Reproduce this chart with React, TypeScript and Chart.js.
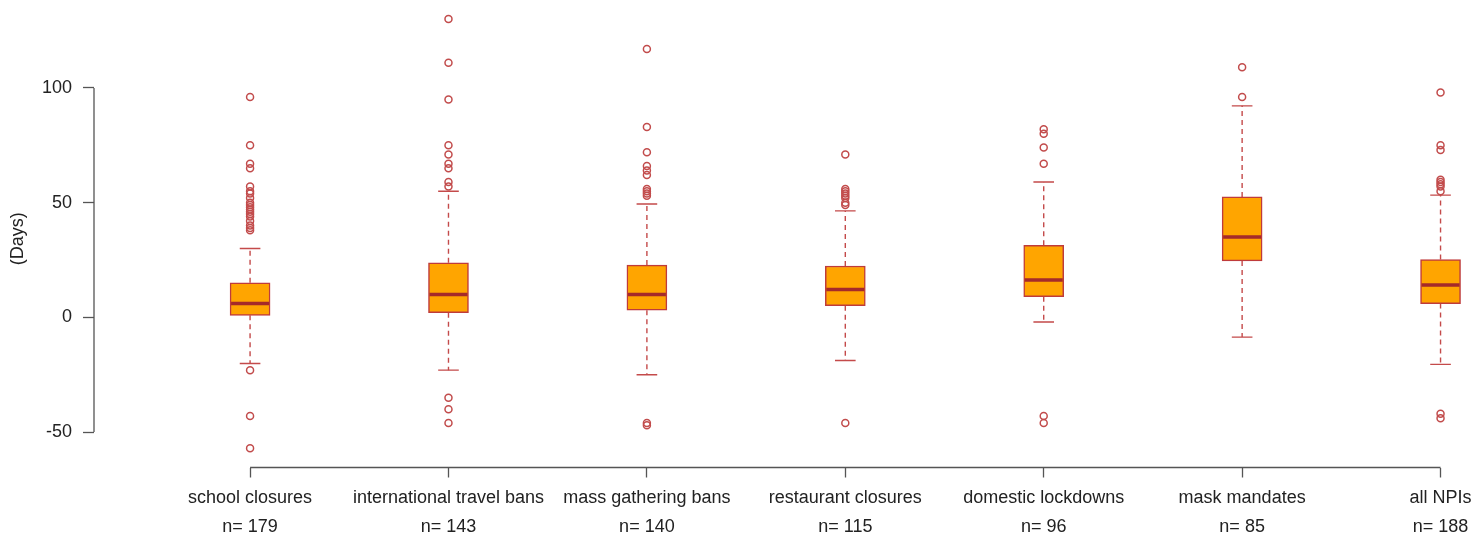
import React, { useEffect, useRef } from "react";
import { Chart, registerables } from "chart.js";

Chart.register(...registerables);

const categories = [
  "school closures",
  "international travel bans",
  "mass gathering bans",
  "restaurant closures",
  "domestic lockdowns",
  "mask mandates",
  "all NPIs",
];
const counts = [179, 143, 140, 115, 96, 85, 188];
const lowerWhisker = [-20.1, -23.0, -25.0, -18.8, -2.0, -8.6, -20.5];
const q1 = [0.9, 2.0, 3.1, 5.1, 9.0, 24.6, 6.0];
const medians = [6.0, 10.0, 10.0, 12.1, 16.3, 35.0, 14.1];
const q3 = [15.1, 23.8, 22.8, 22.4, 31.4, 52.5, 25.2];
const upperWhisker = [30.0, 55.0, 49.4, 46.4, 59.0, 92.2, 53.3];
const outliers = [
  [96, 75, 67, 65, 57, 55, 54, 52, 50, 49, 48, 47, 46, 45, 44, 42, 40, 39, 38, -23, -43, -57],
  [130, 111, 95, 75, 71, 67, 65, 59, 57, -35, -40, -46],
  [117, 83, 72, 66, 64, 62, 56, 55, 54, 53, -46, -47],
  [71, 56, 55, 54, 53, 52, 50, 49, -46],
  [82, 80, 74, 67, -43, -46],
  [109, 96],
  [98, 75, 73, 60, 59, 58, 57, 55, -42, -44],
];
const yTicks = [-50, 0, 50, 100];
const yTitle = "(Days)";

const FONT = "'Liberation Sans', Arial, sans-serif";
const TEXT = "#222222";
const AXIS = "#555555";
const BOX_FILL = "#FFA500";
const BOX_BORDER = "#bf3b3b";
const MEDIAN = "#a52a2a";
const WHISK = "#c44a4a";
const OUT = "#c24c4c";

const boxExtras = {
  id: "boxExtras",
  beforeDatasetsDraw(chart: any) {
    const { ctx, scales, chartArea } = chart;
    const x = scales.x;
    const y = scales.y;
    ctx.save();
    ctx.strokeStyle = AXIS;
    ctx.lineWidth = 1.3;
    ctx.setLineDash([]);
    ctx.beginPath();
    ctx.moveTo(chartArea.left, y.getPixelForValue(yTicks[0]));
    ctx.lineTo(chartArea.left, y.getPixelForValue(yTicks[yTicks.length - 1]));
    ctx.moveTo(x.getPixelForValue(0), chartArea.bottom);
    ctx.lineTo(x.getPixelForValue(categories.length - 1), chartArea.bottom);
    ctx.stroke();

    ctx.strokeStyle = WHISK;
    ctx.lineWidth = 1.4;
    categories.forEach((_, i) => {
      const cx = x.getPixelForValue(i);
      ctx.setLineDash([5, 4]);
      ctx.beginPath();
      ctx.moveTo(cx, y.getPixelForValue(q3[i]));
      ctx.lineTo(cx, y.getPixelForValue(upperWhisker[i]));
      ctx.moveTo(cx, y.getPixelForValue(q1[i]));
      ctx.lineTo(cx, y.getPixelForValue(lowerWhisker[i]));
      ctx.stroke();
      ctx.setLineDash([]);
      const capHalf = (x.getPixelForValue(1) - x.getPixelForValue(0)) * 0.052;
      ctx.beginPath();
      ctx.moveTo(cx - capHalf, y.getPixelForValue(upperWhisker[i]));
      ctx.lineTo(cx + capHalf, y.getPixelForValue(upperWhisker[i]));
      ctx.moveTo(cx - capHalf, y.getPixelForValue(lowerWhisker[i]));
      ctx.lineTo(cx + capHalf, y.getPixelForValue(lowerWhisker[i]));
      ctx.stroke();
    });
    ctx.restore();
  },
  afterDatasetDraw(chart: any, args: any) {
    if (args.index !== 0) return;
    const { ctx, scales } = chart;
    const x = scales.x;
    const y = scales.y;
    const meta = chart.getDatasetMeta(0);
    ctx.save();
    ctx.strokeStyle = MEDIAN;
    ctx.lineWidth = 3.5;
    categories.forEach((_, i) => {
      const bar: any = meta.data[i];
      const half = bar ? bar.width / 2 : 20;
      const cx = x.getPixelForValue(i);
      const py = y.getPixelForValue(medians[i]);
      ctx.beginPath();
      ctx.moveTo(cx - half + 1, py);
      ctx.lineTo(cx + half - 1, py);
      ctx.stroke();
    });
    ctx.restore();
  },
};

export default function App() {
  const ref = useRef<HTMLCanvasElement | null>(null);
  useEffect(() => {
    document.body.style.margin = "0";
    if (!ref.current) return;
    const boxData = categories.map((_, i) => ({ x: i, y: [q1[i], q3[i]] }));
    const outData: { x: number; y: number }[] = [];
    outliers.forEach((arr, i) => arr.forEach((v) => outData.push({ x: i, y: v })));

    const chart = new Chart(ref.current, {
      type: "bar",
      data: {
        datasets: [
          {
            type: "bar",
            data: boxData as any,
            backgroundColor: BOX_FILL,
            borderColor: BOX_BORDER,
            borderWidth: 1.5,
            borderSkipped: false,
            barThickness: 40,
            order: 2,
          } as any,
          {
            type: "scatter",
            data: outData as any,
            pointRadius: 3.5,
            pointBorderWidth: 1.5,
            pointBorderColor: OUT,
            pointBackgroundColor: "rgba(255,255,255,0)",
            order: 1,
          } as any,
        ],
      },
      options: {
        responsive: false,
        animation: false,
        layout: { padding: { top: 10, left: 0, right: 0, bottom: 0 } },
        plugins: { legend: { display: false }, tooltip: { enabled: false } },
        scales: {
          x: {
            type: "linear",
            min: -0.7866,
            max: 6.151,
            offset: false,
            bounds: "data",
            border: { display: false },
            grid: {
              offset: false,
              drawOnChartArea: false,
              drawTicks: true,
              tickLength: 10,
              tickWidth: 1.3,
              tickColor: AXIS,
            },
            afterBuildTicks: (s: any) => {
              s.ticks = categories.map((_, i) => ({ value: i }));
            },
            afterFit: (s: any) => {
              s.height = 65.5;
              s.paddingLeft = 0;
              s.paddingRight = 0;
            },
            ticks: {
              autoSkip: false,
              maxRotation: 0,
              minRotation: 0,
              padding: 6,
              color: TEXT,
              font: { family: FONT, size: 18, lineHeight: 1.6 },
              callback: (v: any) => {
                const i = Math.round(Number(v));
                return [categories[i], "n= " + counts[i]];
              },
            },
          },
          y: {
            type: "linear",
            min: -65.44,
            max: 133.97,
            bounds: "data",
            border: { display: false },
            grid: {
              drawOnChartArea: false,
              drawTicks: true,
              tickLength: 11,
              tickWidth: 1.3,
              tickColor: AXIS,
            },
            afterBuildTicks: (s: any) => {
              s.ticks = yTicks.map((v) => ({ value: v }));
            },
            afterFit: (s: any) => {
              s.width = 94;
              s.paddingTop = 0;
              s.paddingBottom = 0;
            },
            ticks: {
              padding: 11,
              color: TEXT,
              font: { family: FONT, size: 18 },
              callback: (v: any) => String(v),
            },
            title: {
              display: true,
              text: yTitle,
              color: TEXT,
              font: { family: FONT, size: 18 },
              padding: { top: 7, bottom: 0 },
            },
          },
        },
      },
      plugins: [boxExtras],
    });
    return () => chart.destroy();
  }, []);
  return (
    <div style={{ width: 1476, height: 533 }}>
      <canvas ref={ref} width={1476} height={533} />
    </div>
  );
}
